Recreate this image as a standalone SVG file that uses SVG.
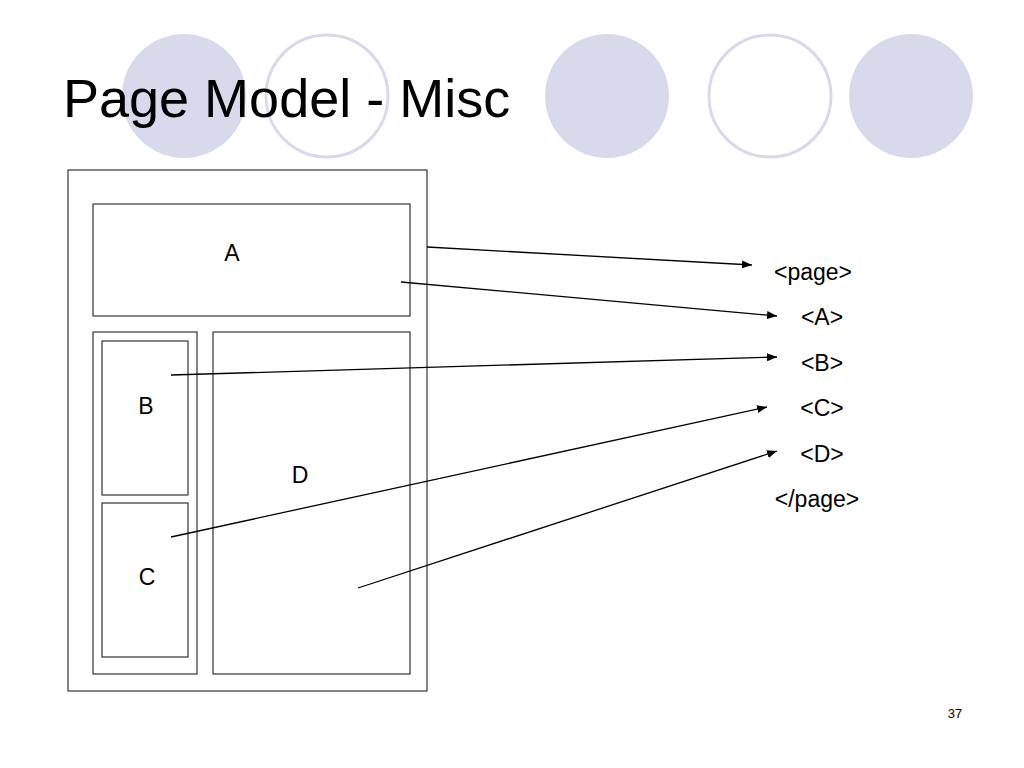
<svg xmlns="http://www.w3.org/2000/svg" width="1024" height="768" viewBox="0 0 1024 768">
<style>
.bg{fill:#ffffff}
.cf{fill:#d9d9ec}
.co{fill:#ffffff;stroke:#d9d9ec;stroke-width:3}
.box{fill:#ffffff;stroke:#333333;stroke-width:1.2}
.lbl{font-family:"Liberation Sans",Arial,sans-serif;font-size:23px;fill:#000000;text-anchor:middle}
.title{font-family:"Liberation Sans",Arial,sans-serif;font-size:54px;fill:#000000}
.conn{stroke:#000000;stroke-width:1.3;fill:none;marker-end:url(#ah)}
</style>
<defs>
<marker id="ah" viewBox="0 0 10 8" refX="10" refY="4" markerWidth="10" markerHeight="8" markerUnits="userSpaceOnUse" orient="auto">
<path d="M0,0 L10,4 L0,8 Z" fill="#000000"/>
</marker>
</defs>
<rect class="bg" x="0" y="0" width="1024" height="768"/>
<g id="decor">
<circle class="cf" cx="184" cy="96" r="62"/>
<circle class="co" cx="327" cy="96" r="61"/>
<circle class="cf" cx="607" cy="96" r="62"/>
<circle class="co" cx="770" cy="96" r="61"/>
<circle class="cf" cx="911" cy="96" r="62"/>
</g>
<text class="title" x="63" y="117">Page Model - Misc</text>
<g id="page-outer"><rect class="box" x="68" y="170" width="359" height="521"/></g>
<g id="node-A"><rect class="box" x="93" y="204" width="317" height="112"/><text class="lbl" x="232" y="261">A</text></g>
<g id="left-col"><rect class="box" x="93" y="332" width="104" height="342"/></g>
<g id="node-B"><rect class="box" x="102" y="341" width="86" height="154"/><text class="lbl" x="146" y="414">B</text></g>
<g id="node-C"><rect class="box" x="102" y="503" width="86" height="154"/><text class="lbl" x="147" y="585">C</text></g>
<g id="node-D"><rect class="box" x="213" y="332" width="197" height="342"/><text class="lbl" x="300" y="483">D</text></g>
<g id="tags">
<text class="lbl" x="813" y="280">&lt;page&gt;</text>
<text class="lbl" x="822" y="325">&lt;A&gt;</text>
<text class="lbl" x="822" y="371">&lt;B&gt;</text>
<text class="lbl" x="822" y="416">&lt;C&gt;</text>
<text class="lbl" x="822" y="462">&lt;D&gt;</text>
<text class="lbl" x="817" y="507">&lt;/page&gt;</text>
</g>
<g id="connectors">
<line class="conn" x1="427" y1="247" x2="752" y2="265"/>
<line class="conn" x1="401" y1="282" x2="777" y2="316"/>
<line class="conn" x1="171" y1="375" x2="777" y2="357"/>
<line class="conn" x1="171" y1="537" x2="767" y2="407"/>
<line class="conn" x1="358" y1="588" x2="777" y2="451"/>
</g>
<text x="955" y="718" style="font-family:'Liberation Sans',Arial,sans-serif;font-size:13px;fill:#000000;text-anchor:middle">37</text>
</svg>
